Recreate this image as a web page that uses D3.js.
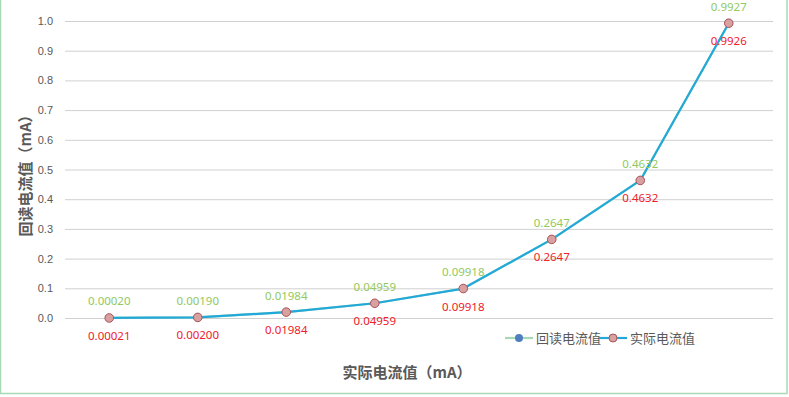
<!DOCTYPE html>
<html>
<head>
<meta charset="utf-8">
<script src="https://cdn.jsdelivr.net/npm/d3@7"></script>
<style>
  body { margin: 0; background: #fff; }
  svg { display: block; font-family: "Noto Sans", "Noto Sans CJK SC", sans-serif; }
</style>
</head>
<body>
<svg id="chart"></svg>
<script>
const categories = ["1", "2", "3", "4", "5", "6", "7", "8"];
const readbackValues = [0.0002, 0.0019, 0.01984, 0.04959, 0.09918, 0.2647, 0.4632, 0.9927];
const readbackLabels = ["0.00020", "0.00190", "0.01984", "0.04959", "0.09918", "0.2647", "0.4632", "0.9927"];
const actualValues = [0.00021, 0.002, 0.01984, 0.04959, 0.09918, 0.2647, 0.4632, 0.9926];
const actualLabels = ["0.00021", "0.00200", "0.01984", "0.04959", "0.09918", "0.2647", "0.4632", "0.9926"];
const yTicks = [0, 0.1, 0.2, 0.3, 0.4, 0.5, 0.6, 0.7, 0.8, 0.9, 1.0];
const seriesNames = ["回读电流值", "实际电流值"];

const dimensions = {
  width: 789,
  height: 397,
  margin: { top: 21, bottom: 79, left: 65, right: 16 }
};

const svg = d3.select("#chart")
  .attr("width", dimensions.width)
  .attr("height", dimensions.height);

// outer frame of the chart area
svg.append("rect")
  .attr("x", 0.5)
  .attr("y", -5)
  .attr("width", 786.5)
  .attr("height", 398.5)
  .attr("fill", "none")
  .attr("stroke", "#A9D8B6")
  .attr("stroke-width", 1.5);

const xScale = d3.scaleBand()
  .domain(categories)
  .range([dimensions.margin.left, dimensions.width - dimensions.margin.right]);

const yScale = d3.scaleLinear()
  .domain([0, 1])
  .range([dimensions.height - dimensions.margin.bottom, dimensions.margin.top]);

const cx = (d, i) => xScale(categories[i]) + xScale.bandwidth() / 2;

// gridlines + tick labels
const yAxis = d3.axisLeft(yScale)
  .tickValues(yTicks)
  .tickFormat(d3.format(".1f"))
  .tickSize(-(xScale.range()[1] - xScale.range()[0]))
  .tickPadding(12);

const yAxisG = svg.append("g")
  .attr("transform", `translate(${dimensions.margin.left},0)`)
  .call(yAxis);
yAxisG.select(".domain").remove();
yAxisG.selectAll("line").attr("stroke", "#D0D0D0").attr("stroke-width", 1);
yAxisG.selectAll("text")
  .attr("fill", "#595959")
  .attr("font-size", 11);

const line = d3.line()
  .x(cx)
  .y(d => yScale(d));

// 回读电流值 (hidden below)
svg.append("path")
  .datum(readbackValues)
  .attr("d", line)
  .attr("fill", "none")
  .attr("stroke", "#A9D8B6")
  .attr("stroke-width", 2.2);
svg.append("g")
  .selectAll("circle")
  .data(readbackValues)
  .join("circle")
  .attr("cx", cx)
  .attr("cy", d => yScale(d))
  .attr("r", 4)
  .attr("fill", "#4F7FBF");

// 实际电流值
svg.append("path")
  .datum(actualValues)
  .attr("d", line)
  .attr("fill", "none")
  .attr("stroke", "#22A9DA")
  .attr("stroke-width", 2.2)
  .attr("stroke-linejoin", "round");
svg.append("g")
  .selectAll("circle")
  .data(actualValues)
  .join("circle")
  .attr("cx", cx)
  .attr("cy", d => yScale(d))
  .attr("r", 4.3)
  .attr("fill", "#D9A0A0")
  .attr("stroke", "#A8565A")
  .attr("stroke-width", 1);

// data labels
svg.append("g")
  .selectAll("text")
  .data(readbackValues)
  .join("text")
  .attr("x", cx)
  .attr("y", d => yScale(d) - 12.5)
  .attr("text-anchor", "middle")
  .attr("font-size", 11.5)
  .attr("fill", "#92C95E")
  .text((d, i) => readbackLabels[i]);

svg.append("g")
  .selectAll("text")
  .data(actualValues)
  .join("text")
  .attr("x", cx)
  .attr("y", d => yScale(d) + 22)
  .attr("text-anchor", "middle")
  .attr("font-size", 11.5)
  .attr("fill", "#F0202A")
  .text((d, i) => actualLabels[i]);

// axis titles
svg.append("text")
  .attr("transform", `translate(31, 172) rotate(-90)`)
  .attr("text-anchor", "middle")
  .attr("font-family", "Noto Sans CJK SC")
  .attr("font-size", 15)
  .attr("font-weight", "bold")
  .attr("fill", "#595959")
  .text("回读电流值（mA）");

svg.append("text")
  .attr("x", 407)
  .attr("y", 378)
  .attr("text-anchor", "middle")
  .attr("font-family", "Noto Sans CJK SC")
  .attr("font-size", 15)
  .attr("font-weight", "bold")
  .attr("fill", "#595959")
  .text("实际电流值（mA）");

// legend
const legendItems = [
  { name: seriesNames[0], line: "#A9D8B6", fill: "#4F7FBF", stroke: "none", x: 505 },
  { name: seriesNames[1], line: "#22A9DA", fill: "#D9A0A0", stroke: "#A8565A", x: 599 }
];
const legend = svg.append("g").attr("transform", "translate(0,338)");
const item = legend.selectAll("g")
  .data(legendItems)
  .join("g")
  .attr("transform", d => `translate(${d.x},0)`);
item.append("line")
  .attr("x1", 0).attr("x2", 28)
  .attr("stroke", d => d.line)
  .attr("stroke-width", 2.2);
item.append("circle")
  .attr("cx", 14)
  .attr("r", 4)
  .attr("fill", d => d.fill)
  .attr("stroke", d => d.stroke);
item.append("text")
  .attr("x", 31)
  .attr("dy", "0.35em")
  .attr("font-family", "Noto Sans CJK SC")
  .attr("font-size", 13)
  .attr("fill", "#595959")
  .text(d => d.name);
</script>
</body>
</html>
